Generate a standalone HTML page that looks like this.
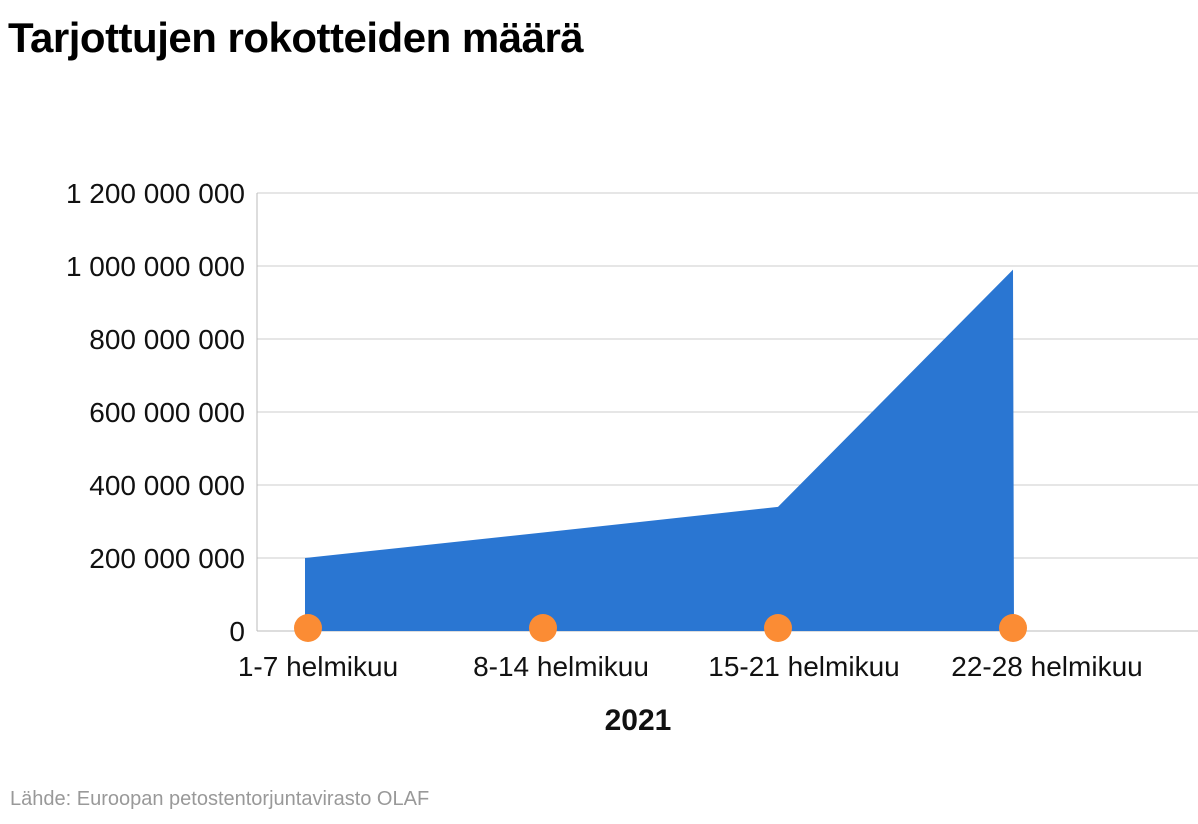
<!DOCTYPE html>
<html><head><meta charset="utf-8">
<style>
body{margin:0;background:#fff;width:1198px;height:824px;overflow:hidden;font-family:"Liberation Sans",sans-serif;}
#title{position:absolute;left:8px;top:14px;font-size:42px;font-weight:bold;color:#000;margin:0;letter-spacing:-0.5px}
#source{position:absolute;left:10px;top:788px;font-size:20px;color:#999}
</style></head><body>
<h1 id="title">Tarjottujen rokotteiden määrä</h1>
<svg id="chart" width="1198" height="824" style="position:absolute;left:0;top:0"></svg>
<div id="source">Lähde: Euroopan petostentorjuntavirasto OLAF</div>
<script>
const categories=["1-7 helmikuu","8-14 helmikuu","15-21 helmikuu","22-28 helmikuu"];
const values=[200000000,270000000,340000000,990000000];
const yTicks=[0,200000000,400000000,600000000,800000000,1000000000,1200000000];
const yTickLabels=["0","200 000 000","400 000 000","600 000 000","800 000 000","1 000 000 000","1 200 000 000"];
const xTitle="2021";
const NS="http://www.w3.org/2000/svg";
const svg=document.getElementById('chart');
const plotL=257,plotR=1198,y0=631,yTop=193,yMax=1200000000;
const y=v=>y0-(v/yMax)*(y0-yTop);
const x=i=>308+i*235;
function mk(t,a){const e=document.createElementNS(NS,t);for(const k in a)e.setAttribute(k,a[k]);svg.appendChild(e);return e;}
yTicks.forEach((v,i)=>{
 const l=mk('line',{x1:plotL,x2:plotR,y1:y(v),y2:y(v),stroke:i===0?'#bbb':'#ccc','stroke-width':1});
 
 
 const t=mk('text',{x:245,y:y(v)+10,'text-anchor':'end','font-size':28,fill:'#111','font-family':'Liberation Sans, sans-serif'});
 t.textContent=yTickLabels[i];
 
 
});
const ax=mk('line',{x1:plotL,x2:plotL,y1:yTop,y2:y0,stroke:'#bbb','stroke-width':1});


let d=`M${x(0)-3},${y0} L${x(0)-3},${y(values[0])}`;
values.forEach((v,i)=>{d+=` L${x(i)-(i===0?3:0)},${y(v)}`;});
d+=` L${x(values.length-1)+1},${y0} Z`;
const area=mk('path',{d:d,fill:'#2a76d2'});


categories.forEach((c,i)=>{
 const dot=mk('circle',{cx:x(i),cy:y0-3,r:14,fill:'#fb8c34'});
 
 
 const t=mk('text',{x:x(i)+(i*8)+10,y:676,'text-anchor':'middle','font-size':28,fill:'#111','font-family':'Liberation Sans, sans-serif'});
 t.textContent=c;
 
 
});
const xt=mk('text',{x:638,y:730,'text-anchor':'middle','font-size':30,'font-weight':'bold',fill:'#111','font-family':'Liberation Sans, sans-serif'});
xt.textContent=xTitle;


</script>
</body></html>
